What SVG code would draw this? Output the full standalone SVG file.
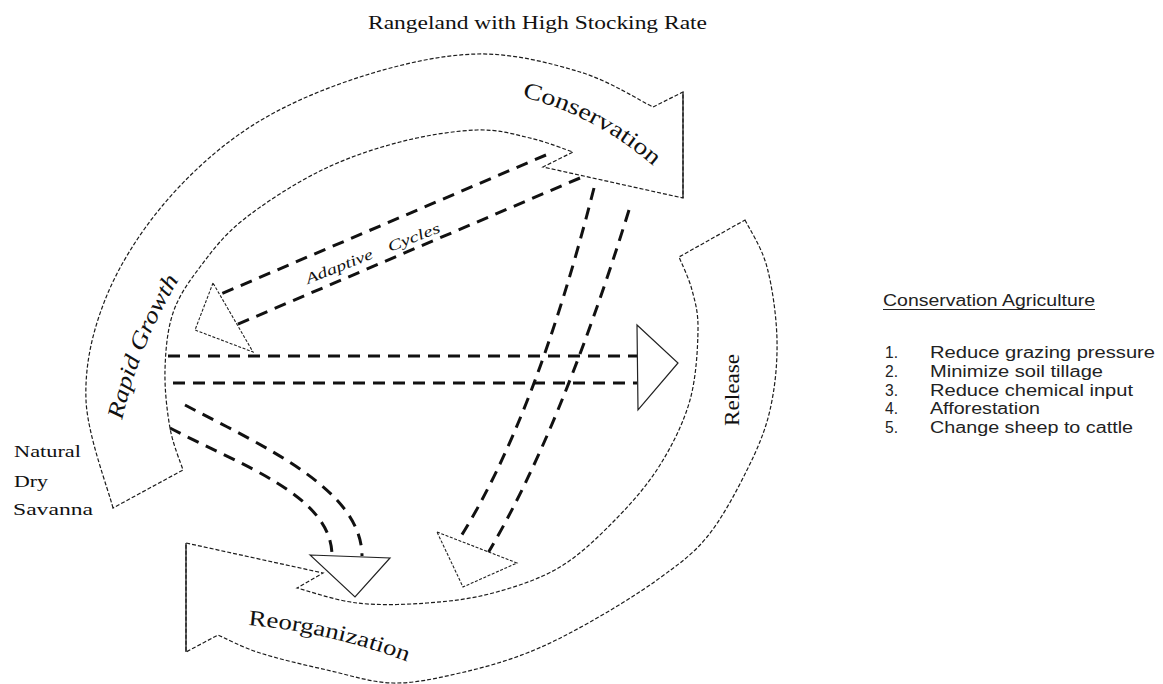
<svg xmlns="http://www.w3.org/2000/svg" width="1163" height="684" viewBox="0 0 1163 684">
  <defs>
    <style>
      .band { fill: #fff; stroke: #1c1c1c; stroke-width: 1.2; stroke-dasharray: 4 2; stroke-linejoin: miter; }
      .edge { stroke: #1c1c1c; stroke-width: 1.3; }
      .flow { fill: none; stroke: #111; stroke-width: 3; stroke-dasharray: 12 8; }
      .head { fill: #fff; stroke: #222; stroke-width: 1.1; stroke-dasharray: 3 1.6; }
      .head-solid { fill: #fff; stroke: #222; stroke-width: 1.2; }
      .serif { font-family: "Liberation Serif", "Times New Roman", serif; fill: #111; }
      .sans { font-family: "Liberation Sans", Arial, sans-serif; fill: #222; }
    </style>
    <path id="conservation-path" d="M522,97 Q600,116 662,174"/>
    <path id="growth-path" d="M122,420 Q141,338 184,272"/>
    <path id="reorg-path" d="M248,625 Q330,632 414,664"/>
  </defs>

  <rect width="1163" height="684" fill="#fff"/>

  <!-- title -->
  <g id="title">
    <text class="serif" x="368" y="29" font-size="19.5" textLength="339" lengthAdjust="spacingAndGlyphs">Rangeland with High Stocking Rate</text>
  </g>

  <!-- upper curved band: rapid growth into conservation -->
  <g id="node-growth-conservation">
    <path class="band" d="M113,508 C108.5,490 87.3,434.7 86,400 C84.7,365.3 92.2,332.5 105,300 C117.8,267.5 138.8,233.8 163,205 C187.2,176.2 217.2,148.3 250,127 C282.8,105.7 322.2,89.2 360,77 C397.8,64.8 440.3,54.8 477,54 C513.7,53.2 550.7,63.2 580,72 C609.3,80.8 640.8,101.2 653,107 L683,92 L683,198 L543,167 L573,152 C565.8,149.7 546,141.7 530,138 C514,134.3 498.7,129.3 477,130 C455.3,130.7 426.2,135.2 400,142 C373.8,148.8 346.2,158 320,171 C293.8,184 263,204 243,220 C223,236 211.7,251.5 200,267 C188.3,282.5 178.8,295.8 173,313 C167.2,330.2 165.5,350.8 165,370 C164.5,389.2 167,411.3 170,428 C173,444.7 180.8,463 183,470 Z"/>
    <line class="edge" x1="683" y1="92" x2="683" y2="198"/>
    <text class="serif" font-size="23"><textPath href="#conservation-path" textLength="150" lengthAdjust="spacingAndGlyphs">Conservation</textPath></text>
    <text class="serif" font-size="23" font-style="italic"><textPath href="#growth-path" textLength="152" lengthAdjust="spacingAndGlyphs">Rapid Growth</textPath></text>
  </g>

  <!-- lower curved band: release into reorganization -->
  <g id="node-release-reorganization">
    <path class="band" d="M745,220 C748.7,227.8 761.7,247 767,267 C772.3,287 776.5,316.2 777,340 C777.5,363.8 775,388.3 770,410 C765,431.7 757.5,448.8 747,470 C736.5,491.2 722,518.7 707,537 C692,555.3 676.5,565.8 657,580 C637.5,594.2 611.7,609.8 590,622 C568.3,634.2 548.7,644.5 527,653 C505.3,661.5 482.3,668 460,673 C437.7,678 415.2,683.5 393,683 C370.8,682.5 349.2,675 327,670 C304.8,665 278.2,658.8 260,653 C241.8,647.2 225,638 218,635 L186,652 L186,543 L323,573 L297,588 C307,590.5 335.3,600.5 357,603 C378.7,605.5 404.3,604.7 427,603 C449.7,601.3 470.8,599 493,593 C515.2,587 539.7,579.2 560,567 C580.3,554.8 598.3,537 615,520 C631.7,503 647.5,485 660,465 C672.5,445 683.7,422.5 690,400 C696.3,377.5 697.7,348.3 698,330 C698.3,311.7 695.2,302.2 692,290 C688.8,277.8 681.2,262.5 679,257 Z"/>
    <line class="edge" x1="186" y1="543" x2="186" y2="652"/>
    <text class="serif" font-size="21" text-anchor="middle" textLength="72" lengthAdjust="spacingAndGlyphs" transform="translate(739,390) rotate(-90)">Release</text>
    <text class="serif" font-size="22"><textPath href="#reorg-path" textLength="164" lengthAdjust="spacingAndGlyphs">Reorganization</textPath></text>
  </g>

  <!-- dashed flows between the phases -->
  <g id="connectors">
    <!-- adaptive cycle: conservation back to rapid growth -->
    <path class="flow" d="M546,155 L221,294"/>
    <path class="flow" d="M580,178 L236,325"/>
    <!-- rapid growth across to release -->
    <path class="flow" d="M168,356 L637,356"/>
    <path class="flow" d="M173,383 L637,383"/>
    <!-- conservation down to reorganization -->
    <path class="flow" d="M594,188 Q535,420 458,541"/>
    <path class="flow" d="M629,210 Q560,432 488,553"/>
    <!-- rapid growth down to reorganization -->
    <path class="flow" d="M185,405 C265,447 362,490 362,556"/>
    <path class="flow" d="M170,428 C240,465 332,495 332,556"/>

    <polygon class="head" points="213,283 195,330 253,352"/>
    <polygon class="head-solid" points="637,325 678,363 638,410"/>
    <polygon class="head" points="437,532 517,563 463,587"/>
    <polygon class="head-solid" points="310,555 390,558 355,597"/>

    <text class="serif" font-size="15" font-style="italic" transform="translate(308,284) rotate(-21.4)">
      <tspan x="0" y="0" textLength="71" lengthAdjust="spacingAndGlyphs">Adaptive</tspan>
      <tspan x="88" y="0" textLength="55" lengthAdjust="spacingAndGlyphs">Cycles</tspan>
    </text>
  </g>

  <!-- savanna label -->
  <g id="label-savanna">
    <text class="serif" font-size="17.5" x="14" y="457" textLength="67" lengthAdjust="spacingAndGlyphs">Natural</text>
    <text class="serif" font-size="17.5" x="14" y="487" textLength="34" lengthAdjust="spacingAndGlyphs">Dry</text>
    <text class="serif" font-size="17.5" x="13" y="515" textLength="80" lengthAdjust="spacingAndGlyphs">Savanna</text>
  </g>

  <!-- conservation agriculture list -->
  <g id="legend">
    <text class="sans" font-size="16" x="883" y="306" textLength="212" lengthAdjust="spacingAndGlyphs">Conservation Agriculture</text>
    <line x1="883" y1="309.5" x2="1095" y2="309.5" stroke="#222" stroke-width="1"/>
    <g class="sans" font-size="16">
      <text x="885" y="358" textLength="13" lengthAdjust="spacingAndGlyphs">1.</text>
      <text x="930" y="358" textLength="225" lengthAdjust="spacingAndGlyphs">Reduce grazing pressure</text>
      <text x="885" y="377" textLength="13" lengthAdjust="spacingAndGlyphs">2.</text>
      <text x="930" y="377" textLength="173" lengthAdjust="spacingAndGlyphs">Minimize soil tillage</text>
      <text x="885" y="396" textLength="13" lengthAdjust="spacingAndGlyphs">3.</text>
      <text x="930" y="396" textLength="203" lengthAdjust="spacingAndGlyphs">Reduce chemical input</text>
      <text x="885" y="414" textLength="13" lengthAdjust="spacingAndGlyphs">4.</text>
      <text x="930" y="414" textLength="110" lengthAdjust="spacingAndGlyphs">Afforestation</text>
      <text x="885" y="433" textLength="13" lengthAdjust="spacingAndGlyphs">5.</text>
      <text x="930" y="433" textLength="203" lengthAdjust="spacingAndGlyphs">Change sheep to cattle</text>
    </g>
  </g>
</svg>
